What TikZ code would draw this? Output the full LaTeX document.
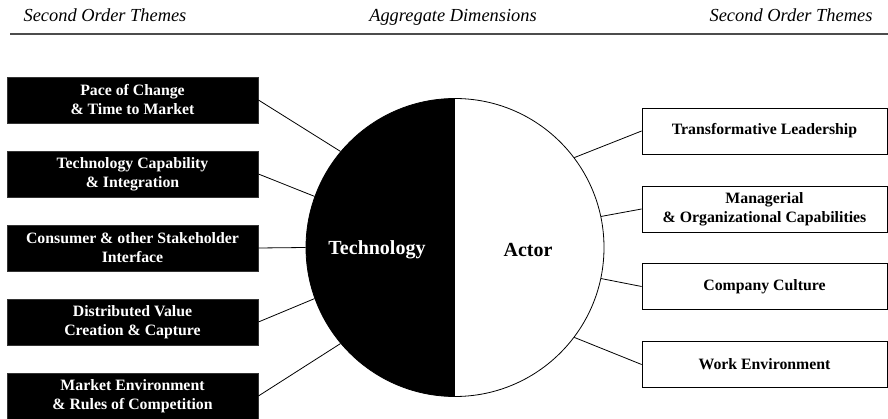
\documentclass[tikz,border=0pt]{standalone}
\usepackage{fontspec}
\setmainfont{Liberation Serif}
\begin{document}
\begin{tikzpicture}[x=1pt,y=-1pt,line width=0.8pt,
  theme/.style={font=\fontsize{15.8}{19}\selectfont\bfseries,align=center,minimum width=251pt,minimum height=46pt,inner sep=0pt},
  techbox/.style={theme,fill=black,draw=black!80,text=white},
  actorbox/.style={theme,draw=black,fill=white,minimum width=245pt},
  head/.style={font=\fontsize{18.4}{20}\selectfont\itshape,anchor=base},
  dimtext/.style={font=\fontsize{20}{24}\selectfont\bfseries}]
\def\r{149}
\useasboundingbox (0,0) rectangle (888,419);
\node[head] (hleft) at (105,22) {Second Order Themes};
\node[head] (hmid) at (453,22) {Aggregate Dimensions};
\node[head] (hright) at (791,22) {Second Order Themes};
\draw[black!70,line width=1.2pt] (10,34) -- (888,34);
\node[circle,draw,inner sep=0pt,minimum size=2*\r pt,
  path picture={\fill (path picture bounding box.north) rectangle (path picture bounding box.south west);}] (dim) at (455,247.5) {};
\node[dimtext,text=white] (tech) at (377,250) {Technology};
\node[dimtext] (actor) at (528,250) {Actor};
\node[techbox] (pace) at (132.5,100) {Pace of Change\\\& Time to Market};
\node[techbox] (capab) at (132.5,174) {Technology Capability\\\& Integration};
\node[techbox] (iface) at (132.5,248) {Consumer \& other Stakeholder\\Interface};
\node[techbox] (value) at (132.5,322) {Distributed Value\\Creation \& Capture};
\node[techbox] (market) at (132.5,396) {Market Environment\\\& Rules of Competition};
\node[actorbox] (lead) at (764.5,131) {Transformative Leadership};
\node[actorbox] (manage) at (764.5,209) {Managerial\\\& Organizational Capabilities};
\node[actorbox] (culture) at (764.5,286.5) {Company Culture};
\node[actorbox] (work) at (764.5,364.5) {Work Environment};
\draw (pace.east) -- (dim.140);
\draw (capab.east) -- (dim.160);
\draw (iface.east) -- (dim.180);
\draw (value.east) -- (dim.200);
\draw (market.east) -- (dim.220);
\draw (lead.west) -- (dim.37);
\draw (manage.west) -- (dim.12);
\draw (culture.west) -- (dim.-12);
\draw (work.west) -- (dim.-37);
\end{tikzpicture}
\end{document}
